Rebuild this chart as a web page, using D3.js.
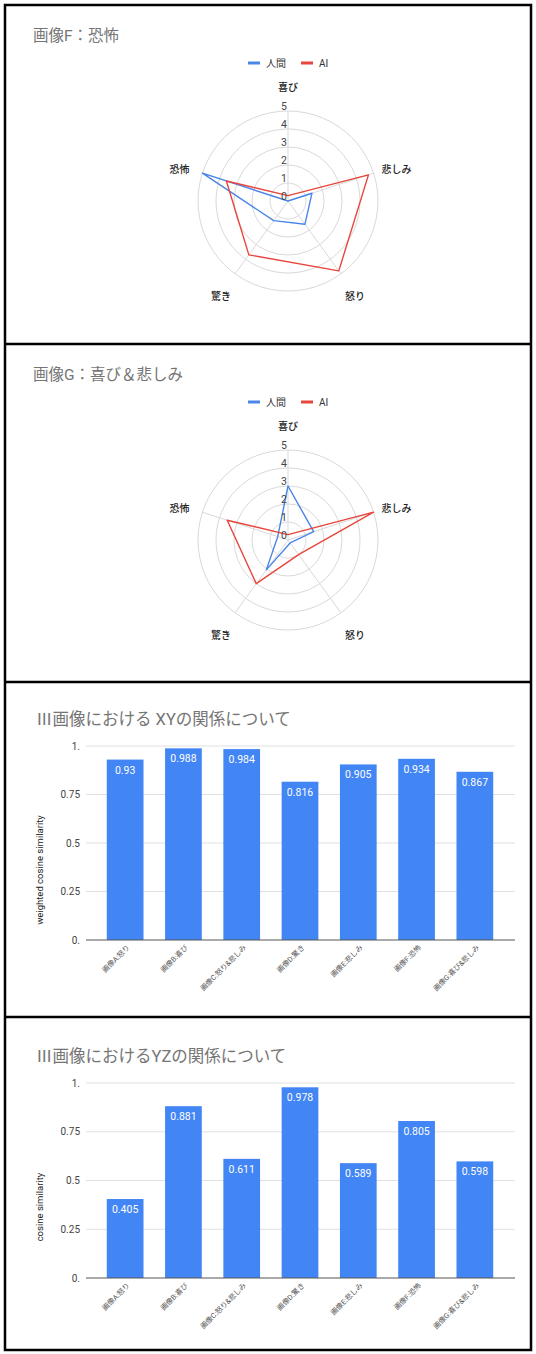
<!DOCTYPE html>
<html>
<head>
<meta charset="utf-8">
<script src="https://cdn.jsdelivr.net/npm/d3@7"></script>
<style>
  html, body { margin: 0; padding: 0; background: #fff; }
  svg { display: block; font-family: Roboto, "Noto Sans CJK JP", sans-serif; }
</style>
</head>
<body>
<svg id="chart" width="536" height="1354"></svg>
<script>
// Radar chart axes and series
const radarAxes = ["喜び", "悲しみ", "怒り", "驚き", "恐怖"];
const seriesNames = ["人間", "AI"];
const radarTicks = [0, 1, 2, 3, 4, 5];
const imageFHuman = [0, 1.4, 1.6, 1.35, 5];
const imageFAI = [0.3, 4.7, 4.8, 3.7, 3.6];
const imageGHuman = [3, 1.5, 0.2, 2.05, 0.6];
const imageGAI = [0.3, 5, 1.0, 3, 3.55];

// Bar charts
const barCategories = ["画像A:怒り", "画像B:喜び", "画像C:怒り&悲しみ", "画像D:驚き", "画像E:悲しみ", "画像F:恐怖", "画像G:喜び&悲しみ"];
const xyValues = [0.93, 0.988, 0.984, 0.816, 0.905, 0.934, 0.867];
const yzValues = [0.405, 0.881, 0.611, 0.978, 0.589, 0.805, 0.598];
const barTicks = [0, 0.25, 0.5, 0.75, 1];
const barTickLabels = ["0.", "0.25", "0.5", "0.75", "1."];

const svg = d3.select("#chart");
const colors = { human: "#4a86e8", ai: "#e8453c", bar: "#4285f4" };

// Panel frames
const frame = svg.append("g");
frame.append("rect").attr("x", 5).attr("y", 5).attr("width", 526).attr("height", 1345)
  .attr("fill", "none").attr("stroke", "#000").attr("stroke-width", 2.5);
[344, 682, 1017].forEach(y => {
  frame.append("line").attr("x1", 5).attr("x2", 531).attr("y1", y).attr("y2", y)
    .attr("stroke", "#000").attr("stroke-width", 2.5);
});

function title(g, x, y, text, size) {
  g.append("text").attr("x", x).attr("y", y).text(text)
    .attr("font-size", size).attr("fill", "#757575");
}

function radar(top, titleText, human, ai) {
  const g = svg.append("g").attr("transform", `translate(0,${top})`);
  title(g, 33, 41, titleText, 15.5);

  // legend
  const leg = g.append("g").attr("font-size", 10).attr("fill", "#333");
  [[248, 266, colors.human, seriesNames[0]], [301, 319, colors.ai, seriesNames[1]]].forEach(([lx, tx, c, t]) => {
    leg.append("line").attr("x1", lx).attr("x2", lx + 12).attr("y1", 63).attr("y2", 63)
      .attr("stroke", c).attr("stroke-width", 3);
    leg.append("text").attr("x", tx).attr("y", 66.5).text(t);
  });

  const cx = 288, cy = 201;
  const r = d3.scaleLinear().domain([0, 5]).range([0, 90]);
  const angle = d3.scalePoint().domain(radarAxes).range([0, 2 * Math.PI * 4 / 5]);
  const c = g.append("g").attr("transform", `translate(${cx},${cy})`);

  c.selectAll("circle.ring").data(radarTicks.slice(1)).join("circle")
    .attr("r", d => r(d)).attr("fill", "none").attr("stroke", "#d9d9d9").attr("stroke-width", 1);
  c.selectAll("line.spoke").data(radarAxes).join("line")
    .attr("x1", 0).attr("y1", 0)
    .attr("x2", d => r(5) * Math.sin(angle(d)))
    .attr("y2", d => -r(5) * Math.cos(angle(d)))
    .attr("stroke", "#d9d9d9").attr("stroke-width", 1);

  const line = d3.lineRadial()
    .angle((d, i) => angle(radarAxes[i]))
    .radius(d => r(d))
    .curve(d3.curveLinearClosed);
  c.append("path").attr("d", line(human)).attr("fill", "none")
    .attr("stroke", colors.human).attr("stroke-width", 1.4).attr("stroke-linejoin", "round");
  c.append("path").attr("d", line(ai)).attr("fill", "none")
    .attr("stroke", colors.ai).attr("stroke-width", 1.4).attr("stroke-linejoin", "round");

  c.selectAll("text.tick").data(radarTicks).join("text")
    .attr("x", -4).attr("y", d => -r(d) - 1)
    .attr("text-anchor", "middle").attr("font-size", 10.5).attr("fill", "#444")
    .text(d => d);

  c.selectAll("text.axis").data(radarAxes).join("text")
    .attr("x", d => 114 * Math.sin(angle(d)))
    .attr("y", (d, i) => -114 * Math.cos(angle(d)) + (i === 0 ? 3.5 : 7))
    .attr("text-anchor", "middle").attr("font-size", 10).attr("font-weight", 500).attr("fill", "#222")
    .text(d => d);
}

function bars(top, titleText, values, axisTitle, y0, y1, axisTitleY) {
  const g = svg.append("g");
  title(g, 36, top, titleText, 16.5);
  const y = d3.scaleLinear().domain([0, 1]).range([y0, y1]);
  const x = d3.scaleBand().domain(barCategories).range([96, 504]).paddingInner(0.37).paddingOuter(0.185);

  g.selectAll("line.grid").data(barTicks.slice(1)).join("line")
    .attr("x1", 86).attr("x2", 515).attr("y1", d => y(d)).attr("y2", d => y(d))
    .attr("stroke", "#e0e0e0").attr("stroke-width", 1);

  g.selectAll("text.ytick").data(barTicks).join("text")
    .attr("x", 80).attr("y", d => y(d) + 3.5).attr("text-anchor", "end")
    .attr("font-size", 10).attr("fill", "#444")
    .text((d, i) => barTickLabels[i]);

  g.selectAll("rect.bar").data(values).join("rect")
    .attr("x", (d, i) => x(barCategories[i])).attr("width", x.bandwidth())
    .attr("y", d => y(d)).attr("height", d => y(0) - y(d))
    .attr("fill", colors.bar);

  g.selectAll("text.val").data(values).join("text")
    .attr("x", (d, i) => x(barCategories[i]) + x.bandwidth() / 2)
    .attr("y", d => y(d) + 14).attr("text-anchor", "middle")
    .attr("font-size", 10.5).attr("fill", "#fff")
    .text(d => d);

  g.append("line").attr("x1", 86).attr("x2", 515).attr("y1", y(0)).attr("y2", y(0))
    .attr("stroke", "#555").attr("stroke-width", 1);

  g.selectAll("text.xlab").data(barCategories).join("text")
    .attr("transform", d => `translate(${x(d) + x.bandwidth() / 2 + 5},${y(0) + 8}) rotate(-45)`)
    .attr("text-anchor", "end").attr("font-size", 7.2).attr("fill", "#555")
    .text(d => d);

  g.append("text")
    .attr("transform", `translate(43,${axisTitleY}) rotate(-90)`)
    .attr("text-anchor", "middle").attr("font-size", 9.5).attr("fill", "#222")
    .text(axisTitle);
}

radar(0, "画像F：恐怖", imageFHuman, imageFAI);
radar(339, "画像G：喜び＆悲しみ", imageGHuman, imageGAI);
bars(725, "Ⅲ画像における XYの関係について", xyValues, "weighted cosine similarity", 940, 746, 870);
bars(1062, "Ⅲ画像におけるYZの関係について", yzValues, "cosine similarity", 1278, 1083, 1207);
</script>
</body>
</html>
